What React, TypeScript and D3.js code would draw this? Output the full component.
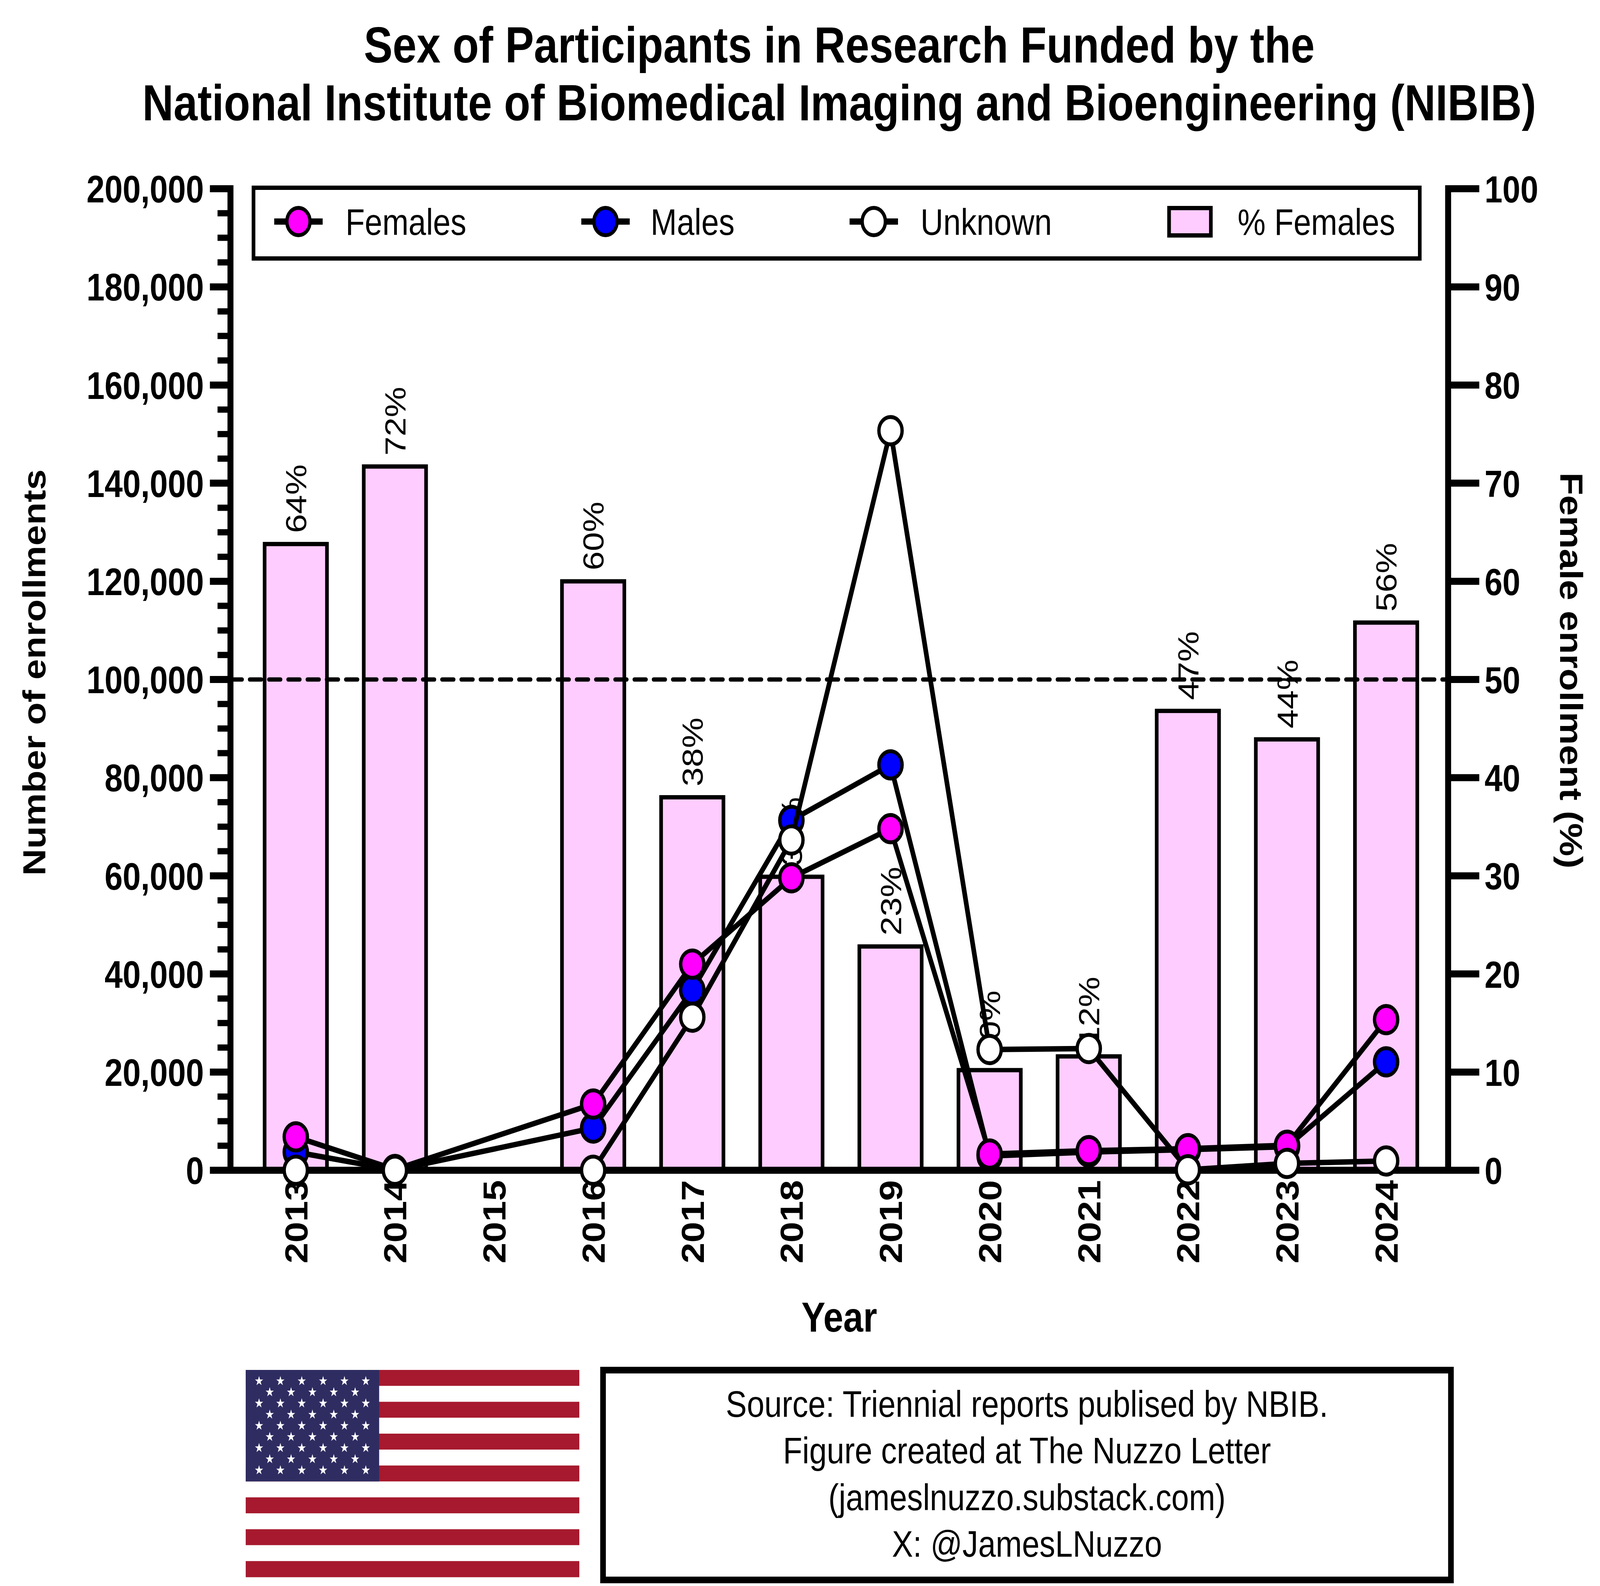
import React from 'react';
import * as d3 from 'd3';

const years = ['2013', '2014', '2015', '2016', '2017', '2018', '2019', '2020', '2021', '2022', '2023', '2024'];
// % females (right axis), null = no report that year
const pctFemales: (number | null)[] = [63.8, 71.7, null, 60, 38, 29.9, 22.8, 10.2, 11.6, 46.8, 43.9, 55.8];
const females: (number | null)[] = [6800, 150, null, 13500, 42000, 59600, 69600, 3300, 4000, 4400, 5100, 30700];
const males: (number | null)[] = [3700, 60, null, 8600, 36700, 71300, 82600, 2900, 3700, 4200, 4800, 22100];
const unknown: (number | null)[] = [0, 0, null, 0, 31200, 67300, 150700, 24600, 24800, 100, 1400, 1900];

const leftTicks = [0, 20000, 40000, 60000, 80000, 100000, 120000, 140000, 160000, 180000, 200000];
const rightTicks = [0, 10, 20, 30, 40, 50, 60, 70, 80, 90, 100];

const titleLines = [
  'Sex of Participants in Research Funded by the',
  'National Institute of Biomedical Imaging and Bioengineering (NIBIB)',
];
const sourceLines = [
  'Source: Triennial reports publised by NBIB.',
  'Figure created at The Nuzzo Letter',
  '(jameslnuzzo.substack.com)',
  'X: @JamesLNuzzo',
];

const FONT = '"Liberation Sans", Arial, Helvetica, sans-serif';
const W = 4825;
const H = 4059;
const left = 695;
const right = 4367;
const top = 483;
const bottom = 2995;

const PINK = '#FFCCFF';

const series = [
  { name: 'Males', values: males, fill: '#0000FF' },
  { name: 'Females', values: females, fill: '#FF00FF' },
  { name: 'Unknown', values: unknown, fill: '#FFFFFF' },
];

const legendItems = [
  { name: 'Females', fill: '#FF00FF', mx: 900, tx: 1042 },
  { name: 'Males', fill: '#0000FF', mx: 1826, tx: 1962 },
  { name: 'Unknown', fill: '#FFFFFF', mx: 2635, tx: 2776 },
];

const Flag: React.FC<{ x: number; y: number; w: number; h: number }> = ({ x, y, w, h }) => {
  const stripeH = h / 13;
  const cantonW = w * 0.4;
  const cantonH = stripeH * 7;
  const star = d3.symbol().type(d3.symbolStar).size(190)() as string;
  const stars: { cx: number; cy: number }[] = [];
  for (let r = 0; r < 9; r++) {
    const n = r % 2 === 0 ? 6 : 5;
    for (let c = 0; c < n; c++) {
      const cx = x + cantonW * ((r % 2 === 0 ? c * 2 + 1 : c * 2 + 2) / 12.5) + 8;
      const cy = y + cantonH * ((r + 1) / 10);
      stars.push({ cx, cy });
    }
  }
  return (
    <g>
      {d3.range(13).map(i => (
        <rect key={i} x={x} y={y + i * stripeH} width={w} height={stripeH + 0.5} fill={i % 2 === 0 ? '#A6192E' : '#FFFFFF'} />
      ))}
      <rect x={x} y={y} width={cantonW} height={cantonH} fill="#2E2C61" />
      {stars.map((s, i) => (
        <path key={i} d={star} transform={`translate(${s.cx},${s.cy})`} fill="#FFFFFF" />
      ))}
    </g>
  );
};

export default function App() {
  const x = d3.scalePoint<string>().domain(years).range([892, 4180]);
  const yL = d3.scaleLinear().domain([0, 200000]).range([bottom, top]);
  const yR = d3.scaleLinear().domain([0, 100]).range([bottom, top]);
  const barW = 188;
  const fmt = d3.format(',');
  const minorTicks = d3.range(0, 200001, 5000).filter(v => v % 20000 !== 0);

  const line = d3
    .line<{ year: string; v: number }>()
    .x(d => x(d.year) as number)
    .y(d => yL(d.v));

  return (
    <svg
      viewBox={`0 0 ${W} ${H}`}
      preserveAspectRatio="none"
      style={{ display: 'block', width: '100vw', height: '100vh', background: '#fff' }}
      fontFamily={FONT}
    >
      <style>{`html,body{margin:0;padding:0;overflow:hidden;background:#fff}`}</style>
      <rect width={W} height={H} fill="#fff" />

      {/* title */}
      {titleLines.map((t, i) => (
        <text key={i} x={(left + right) / 2} y={160 + i * 148} textAnchor="middle" fontSize={130} fontWeight="bold">
          {t}
        </text>
      ))}

      {/* bars */}
      {years.map((yr, i) => {
        const v = pctFemales[i];
        if (v == null) return null;
        return (
          <rect
            key={yr}
            x={(x(yr) as number) - barW / 2}
            y={yR(v)}
            width={barW}
            height={bottom - yR(v)}
            fill={PINK}
            stroke="#000"
            strokeWidth={11}
          />
        );
      })}
      {/* bar labels */}
      {years.map((yr, i) => {
        const v = pctFemales[i];
        if (v == null) return null;
        const cx = x(yr) as number;
        const cy = yR(v) - 28;
        return (
          <text key={yr} transform={`translate(${cx},${cy}) rotate(-90)`} dy="0.36em" fontSize={88}>
            {`${Math.round(v)}%`}
          </text>
        );
      })}

      {/* axes */}
      <line x1={left} x2={right} y1={bottom} y2={bottom} stroke="#000" strokeWidth={18} strokeLinecap="square" />
      <line x1={left} x2={left} y1={top - 9} y2={bottom + 9} stroke="#000" strokeWidth={18} />
      <line x1={right} x2={right} y1={top - 9} y2={bottom + 9} stroke="#000" strokeWidth={18} />
      {leftTicks.map(t => (
        <g key={t}>
          <line x1={633} x2={left} y1={yL(t)} y2={yL(t)} stroke="#000" strokeWidth={18} />
          <text x={615} y={yL(t)} dy="0.36em" textAnchor="end" fontSize={98} fontWeight="bold">
            {fmt(t)}
          </text>
        </g>
      ))}
      {minorTicks.map(t => (
        <line key={t} x1={656} x2={left} y1={yL(t)} y2={yL(t)} stroke="#000" strokeWidth={16} />
      ))}
      {rightTicks.map(t => (
        <g key={t}>
          <line x1={right} x2={4461} y1={yR(t)} y2={yR(t)} stroke="#000" strokeWidth={18} />
          <text x={4477} y={yR(t)} dy="0.36em" fontSize={97} fontWeight="bold">
            {t}
          </text>
        </g>
      ))}
      {years.map(yr => (
        <text
          key={yr}
          transform={`translate(${x(yr)},3020) rotate(-90)`}
          dy="0.36em"
          textAnchor="end"
          fontSize={96}
          fontWeight="bold"
        >
          {yr}
        </text>
      ))}
      <text x={(left + right) / 2} y={3408} textAnchor="middle" fontSize={108} fontWeight="bold">
        Year
      </text>
      <text transform="translate(102,1721) rotate(-90)" dy="0.36em" textAnchor="middle" fontSize={95} fontWeight="bold">
        Number of enrollments
      </text>
      <text transform="translate(4739,1716) rotate(90)" dy="0.36em" textAnchor="middle" fontSize={95} fontWeight="bold">
        Female enrollment (%)
      </text>

      {/* 50% reference */}
      <line
        x1={left}
        x2={right}
        y1={yR(50)}
        y2={yR(50)}
        stroke="#000"
        strokeWidth={11}
        strokeDasharray="35 23"
        strokeLinecap="round"
      />

      {/* series */}
      {series.map(s => {
        const pts = years
          .map((yr, i) => ({ year: yr, v: s.values[i] }))
          .filter(d => d.v != null) as { year: string; v: number }[];
        return (
          <g key={s.name}>
            <path d={line(pts) as string} fill="none" stroke="#000" strokeWidth={14} strokeLinejoin="round" />
            {pts.map(p => (
              <circle key={p.year} cx={x(p.year)} cy={yL(p.v)} r={35} fill={s.fill} stroke="#000" strokeWidth={10} />
            ))}
          </g>
        );
      })}

      {/* legend */}
      <rect x={764.5} y={480.5} width={3517} height={181} fill="#fff" stroke="#000" strokeWidth={11} />
      {legendItems.map(l => (
        <g key={l.name}>
          <line x1={l.mx - 73} x2={l.mx + 73} y1={567} y2={567} stroke="#000" strokeWidth={16} />
          <circle cx={l.mx} cy={567} r={35} fill={l.fill} stroke="#000" strokeWidth={10} />
          <text x={l.tx} y={567} dy="0.36em" fontSize={95}>
            {l.name}
          </text>
        </g>
      ))}
      <rect x={3525.5} y={532.5} width={126} height={70} fill={PINK} stroke="#000" strokeWidth={11} />
      <text x={3732} y={567} dy="0.36em" fontSize={95}>
        % Females
      </text>

      {/* footer */}
      <Flag x={741} y={3506} w={1006} h={530} />
      <rect x={1818.5} y={3506.5} width={2557} height={537} fill="#fff" stroke="#000" strokeWidth={17} />
      {sourceLines.map((t, i) => (
        <text key={i} x={3097} y={3626 + i * 119.5} textAnchor="middle" fontSize={95}>
          {t}
        </text>
      ))}
    </svg>
  );
}
